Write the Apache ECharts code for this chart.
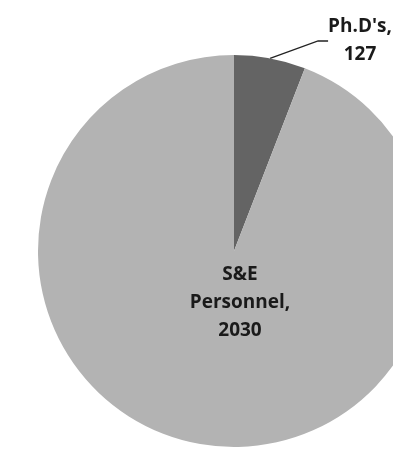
<!DOCTYPE html>
<html><head><meta charset="utf-8">
<script src="https://cdn.jsdelivr.net/npm/echarts@6/dist/echarts.min.js"></script>
<style>html,body{margin:0;padding:0;background:#fff}#c{width:393px;height:449px}</style>
</head><body><div id="c"></div>
<script>
const categories = ["Ph.D's", "S&E Personnel"];
const values = [127, 2030];
const labelTexts = ["Ph.D's,\n127", "S&E\nPersonnel,\n2030"];

const chart = echarts.init(document.getElementById('c'), null, {renderer: 'canvas'});
const labelPos = [{x: 360, y: 41}, {x: 240, y: 303}];
chart.setOption({
  animation: false,
  series: [{
    type: 'pie',
    center: [234, 251],
    radius: 196,
    startAngle: 90,
    clockwise: true,
    data: categories.map((c, i) => ({
      name: c,
      value: values[i],
      itemStyle: {color: i === 0 ? '#646464' : '#b3b3b3'},
      label: {
        position: i === 0 ? 'outside' : 'inside',
        formatter: labelTexts[i]
      },
      labelLine: {show: i === 0}
    })),
    label: {
      fontFamily: '"Open Sans", Lato, sans-serif',
      fontWeight: 'bold',
      fontSize: 19,
      lineHeight: 28,
      color: '#1a1a1a',
      align: 'center'
    },
    labelLine: {lineStyle: {color: '#222', width: 1.3}, length: 30, length2: 10},
    labelLayout: function (p) {
      const pos = labelPos[p.dataIndex];
      return {x: pos.x, y: pos.y, align: 'center', verticalAlign: 'middle'};
    }
  }]
});
</script>
</body></html>
